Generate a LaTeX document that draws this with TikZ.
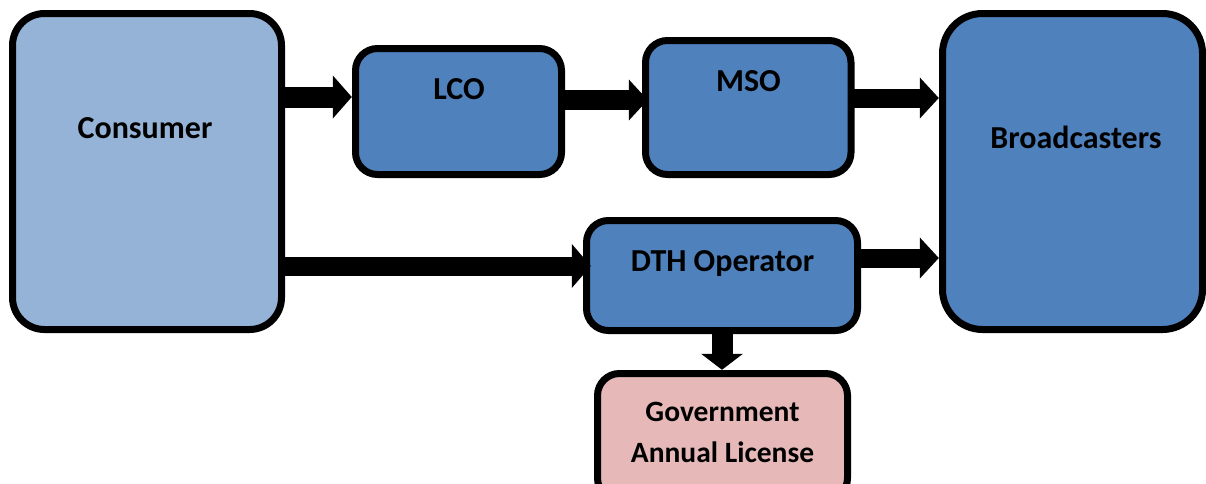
\documentclass[tikz,border=0pt]{standalone}
\usepackage{fontspec}
\setmainfont{Carlito}
\usetikzlibrary{arrows.meta}
\definecolor{lightblue}{HTML}{95B3D7}
\definecolor{midblue}{HTML}{4F81BD}
\definecolor{pinkfill}{HTML}{E6B9B8}
\tikzset{
  box/.style={draw=black, line width=7pt, rounded corners=#1, inner sep=0pt, outer sep=0pt},
  box/.default=24pt,
  lbl/.style={font=\fontsize{32}{41}\selectfont\bfseries, anchor=base, inner sep=0pt, align=center},
  smalllbl/.style={lbl, font=\fontsize{29.5}{41}\selectfont\bfseries},
  blockarrow/.style n args={2}{line width=#1, -{Triangle[width=#2, length=19pt]}}
}
\begin{document}
\begin{tikzpicture}[x=1pt, y=-1pt]
\useasboundingbox (0,0) rectangle (1206,483);
% boxes (centre line of the border)
\draw[box=32pt, fill=lightblue] (12.5,13.5) rectangle (281.5,329.5);
\node[minimum width=276pt, minimum height=323pt] (cons) at (147,171.5) {};
\draw[box=22pt, fill=midblue] (355.5,48.5) rectangle (561.5,174.5);
\node[minimum width=213pt, minimum height=133pt] (lco) at (458.5,111.5) {};
\draw[box=22pt, fill=midblue] (645.5,40.5) rectangle (851,174.5);
\node[minimum width=212pt, minimum height=141pt] (mso) at (748,107.5) {};
\draw[box=40pt, fill=midblue] (942.5,13.5) rectangle (1202.5,329.5);
\node[minimum width=267pt, minimum height=323pt] (brd) at (1072.5,171.5) {};
\draw[box=22pt, fill=midblue] (586.5,220.5) rectangle (857.5,330.5);
\node[minimum width=278pt, minimum height=117pt] (dth) at (722,275.5) {};
\draw[box=22pt, fill=pinkfill] (597.5,373.5) rectangle (847.5,500);
\node[minimum width=257pt, minimum height=130pt] (gov) at (722.5,435) {};
% labels
\node[lbl] (tcons) at (145,138) {Consumer};
\node[lbl] (tlco) at (459,99) {LCO};
\node[lbl] (tmso) at (748.5,91) {MSO};
\node[lbl] (tbrd) at (1076,148) {Broadcasters};
\node[lbl] (tdth) at (722.5,271) {DTH Operator};
\node[smalllbl] (tgov) at (722.5,462) {Government\\Annual License};
% arrows
\draw[blockarrow={21pt}{42pt}] (cons.east |- 0,97) -- (lco.west |- 0,97);
\draw[blockarrow={20pt}{40pt}] (lco.east |- 0,100) -- ([xshift=6pt]mso.west |- 0,100);
\draw[blockarrow={19pt}{40pt}] (mso.east |- 0,98) -- (brd.west |- 0,98);
\draw[blockarrow={19pt}{43pt}] (cons.east |- 0,266) -- ([xshift=8pt]dth.west |- 0,266);
\draw[blockarrow={19pt}{40pt}] (dth.east |- 0,258) -- (brd.west |- 0,258);
\draw[-{Triangle[width=41pt, length=16pt]}, line width=21pt] (dth.south -| 722,0) -- (gov.north -| 722,0);
\end{tikzpicture}
\end{document}
